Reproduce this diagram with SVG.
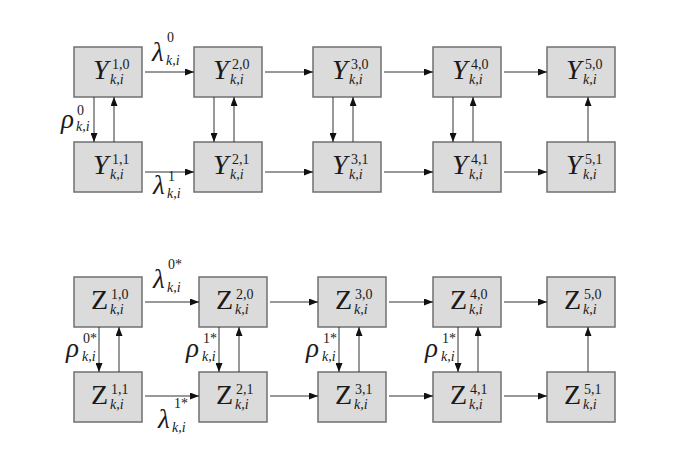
<svg xmlns="http://www.w3.org/2000/svg" width="685" height="474" viewBox="0 0 685 474" font-family="'Liberation Serif', 'Times New Roman', Times, serif">
<defs>
<marker id="ah" markerWidth="9" markerHeight="7" refX="9" refY="3.5" orient="auto" markerUnits="userSpaceOnUse">
<path d="M0,0 L9,3.5 L0,7 Z" fill="#111"/>
</marker>
<style>
rect.b{fill:#dbdbdb;stroke:#707070;stroke-width:1.5}
.c line{stroke:#333;stroke-width:1;marker-end:url(#ah)}
text{fill:#1a1a1a}
.vi{font-size:28px;font-style:italic}
.vr{font-size:28px}
.sp{font-size:14px}
.sb{font-size:14px;font-style:italic}
.g{font-size:27px;font-style:italic}
</style>
</defs>
<rect width="685" height="474" fill="#fff"/>

<g id="Y10"><rect class="b" x="74" y="47" width="68" height="50"/><text class="vi" x="93" y="79">Y</text><text class="sp" x="112" y="69">1,0</text><text class="sb" x="110" y="84">k,i</text></g>
<g id="Y20"><rect class="b" x="194" y="47" width="68" height="50"/><text class="vi" x="213" y="79">Y</text><text class="sp" x="232" y="69">2,0</text><text class="sb" x="230" y="84">k,i</text></g>
<g id="Y30"><rect class="b" x="313" y="47" width="68" height="50"/><text class="vi" x="332" y="79">Y</text><text class="sp" x="351" y="69">3,0</text><text class="sb" x="349" y="84">k,i</text></g>
<g id="Y40"><rect class="b" x="433" y="47" width="68" height="50"/><text class="vi" x="452" y="79">Y</text><text class="sp" x="471" y="69">4,0</text><text class="sb" x="469" y="84">k,i</text></g>
<g id="Y50"><rect class="b" x="547" y="47" width="68" height="50"/><text class="vi" x="566" y="79">Y</text><text class="sp" x="585" y="69">5,0</text><text class="sb" x="583" y="84">k,i</text></g>

<g id="Y11"><rect class="b" x="74" y="142" width="68" height="50"/><text class="vi" x="93" y="174">Y</text><text class="sp" x="112" y="164">1,1</text><text class="sb" x="110" y="179">k,i</text></g>
<g id="Y21"><rect class="b" x="194" y="142" width="68" height="50"/><text class="vi" x="213" y="174">Y</text><text class="sp" x="232" y="164">2,1</text><text class="sb" x="230" y="179">k,i</text></g>
<g id="Y31"><rect class="b" x="313" y="142" width="68" height="50"/><text class="vi" x="332" y="174">Y</text><text class="sp" x="351" y="164">3,1</text><text class="sb" x="349" y="179">k,i</text></g>
<g id="Y41"><rect class="b" x="433" y="142" width="68" height="50"/><text class="vi" x="452" y="174">Y</text><text class="sp" x="471" y="164">4,1</text><text class="sb" x="469" y="179">k,i</text></g>
<g id="Y51"><rect class="b" x="547" y="142" width="68" height="50"/><text class="vi" x="566" y="174">Y</text><text class="sp" x="585" y="164">5,1</text><text class="sb" x="583" y="179">k,i</text></g>

<g id="Z10"><rect class="b" x="74" y="277" width="68" height="50"/><text class="vr" x="91" y="309">Z</text><text class="sp" x="111" y="299">1,0</text><text class="sb" x="110" y="314">k,i</text></g>
<g id="Z20"><rect class="b" x="199" y="277" width="68" height="50"/><text class="vr" x="216" y="309">Z</text><text class="sp" x="236" y="299">2,0</text><text class="sb" x="235" y="314">k,i</text></g>
<g id="Z30"><rect class="b" x="318" y="277" width="68" height="50"/><text class="vr" x="335" y="309">Z</text><text class="sp" x="355" y="299">3,0</text><text class="sb" x="354" y="314">k,i</text></g>
<g id="Z40"><rect class="b" x="433" y="277" width="68" height="50"/><text class="vr" x="450" y="309">Z</text><text class="sp" x="470" y="299">4,0</text><text class="sb" x="469" y="314">k,i</text></g>
<g id="Z50"><rect class="b" x="547" y="277" width="68" height="50"/><text class="vr" x="564" y="309">Z</text><text class="sp" x="584" y="299">5,0</text><text class="sb" x="583" y="314">k,i</text></g>

<g id="Z11"><rect class="b" x="74" y="372" width="68" height="50"/><text class="vr" x="91" y="404">Z</text><text class="sp" x="111" y="394">1,1</text><text class="sb" x="110" y="409">k,i</text></g>
<g id="Z21"><rect class="b" x="199" y="372" width="68" height="50"/><text class="vr" x="216" y="404">Z</text><text class="sp" x="236" y="394">2,1</text><text class="sb" x="235" y="409">k,i</text></g>
<g id="Z31"><rect class="b" x="318" y="372" width="68" height="50"/><text class="vr" x="335" y="404">Z</text><text class="sp" x="355" y="394">3,1</text><text class="sb" x="354" y="409">k,i</text></g>
<g id="Z41"><rect class="b" x="433" y="372" width="68" height="50"/><text class="vr" x="450" y="404">Z</text><text class="sp" x="470" y="394">4,1</text><text class="sb" x="469" y="409">k,i</text></g>
<g id="Z51"><rect class="b" x="547" y="372" width="68" height="50"/><text class="vr" x="564" y="404">Z</text><text class="sp" x="584" y="394">5,1</text><text class="sb" x="583" y="409">k,i</text></g>

<g id="connectors" class="c">
<line x1="145" y1="72" x2="194" y2="72"/>
<line x1="265" y1="72" x2="313" y2="72"/>
<line x1="384" y1="72" x2="433" y2="72"/>
<line x1="504" y1="72" x2="547" y2="72"/>
<line x1="145" y1="172" x2="194" y2="172"/>
<line x1="265" y1="172" x2="313" y2="172"/>
<line x1="384" y1="172" x2="433" y2="172"/>
<line x1="504" y1="172" x2="547" y2="172"/>
<line x1="94" y1="97" x2="94" y2="142"/>
<line x1="114" y1="142" x2="114" y2="97"/>
<line x1="214" y1="97" x2="214" y2="142"/>
<line x1="234" y1="142" x2="234" y2="97"/>
<line x1="333" y1="97" x2="333" y2="142"/>
<line x1="353" y1="142" x2="353" y2="97"/>
<line x1="453" y1="97" x2="453" y2="142"/>
<line x1="473" y1="142" x2="473" y2="97"/>
<line x1="588" y1="142" x2="588" y2="97"/>

<line x1="145" y1="302" x2="199" y2="302"/>
<line x1="270" y1="302" x2="318" y2="302"/>
<line x1="389" y1="302" x2="433" y2="302"/>
<line x1="504" y1="302" x2="547" y2="302"/>
<line x1="145" y1="396" x2="199" y2="396"/>
<line x1="270" y1="396" x2="318" y2="396"/>
<line x1="389" y1="396" x2="433" y2="396"/>
<line x1="504" y1="396" x2="547" y2="396"/>
<line x1="99" y1="327" x2="99" y2="372"/>
<line x1="119" y1="372" x2="119" y2="327"/>
<line x1="219" y1="327" x2="219" y2="372"/>
<line x1="239" y1="372" x2="239" y2="327"/>
<line x1="339" y1="327" x2="339" y2="372"/>
<line x1="359" y1="372" x2="359" y2="327"/>
<line x1="458" y1="327" x2="458" y2="372"/>
<line x1="478" y1="372" x2="478" y2="327"/>
<line x1="588" y1="372" x2="588" y2="327"/>
</g>

<g id="labels">
<text class="g" x="152" y="61">λ</text><text class="sp" x="167" y="42">0</text><text class="sb" x="166" y="65">k,i</text>
<text class="g" x="153" y="194">λ</text><text class="sp" x="168" y="181">1</text><text class="sb" x="167" y="198">k,i</text>
<text class="g" x="61" y="128">ρ</text><text class="sp" x="77" y="115">0</text><text class="sb" x="76" y="131">k,i</text>

<text class="g" x="153" y="288">λ</text><text class="sp" x="168" y="269">0*</text><text class="sb" x="167" y="292">k,i</text>
<text class="g" x="158" y="428">λ</text><text class="sp" x="174" y="408">1*</text><text class="sb" x="172" y="432">k,i</text>
<text class="g" x="66" y="357">ρ</text><text class="sp" x="83" y="343">0*</text><text class="sb" x="82" y="361">k,i</text>
<text class="g" x="186" y="357">ρ</text><text class="sp" x="203" y="343">1*</text><text class="sb" x="202" y="361">k,i</text>
<text class="g" x="306" y="357">ρ</text><text class="sp" x="323" y="343">1*</text><text class="sb" x="322" y="361">k,i</text>
<text class="g" x="425" y="357">ρ</text><text class="sp" x="442" y="343">1*</text><text class="sb" x="441" y="361">k,i</text>
</g>
</svg>
